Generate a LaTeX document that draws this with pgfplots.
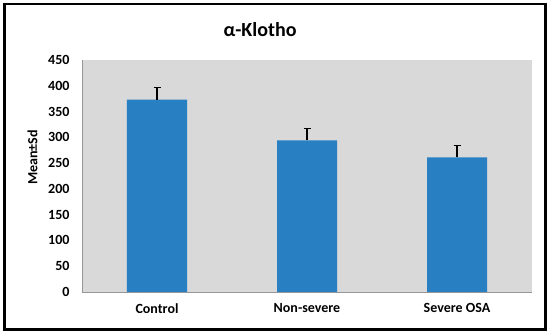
\documentclass[border=0pt]{standalone}
\usepackage{fontspec}
\setmainfont{Carlito}
\usepackage{pgfplots}
\pgfplotsset{compat=1.18}
\definecolor{barblue}{RGB}{40,128,194}
\definecolor{bg}{RGB}{217,217,217}
\definecolor{axgray}{RGB}{150,150,150}
\begin{document}
\begin{tikzpicture}[x=1pt,y=1pt]
\useasboundingbox (0,0) rectangle (550,335);
\draw[line width=2.2pt] (4.5,5.5) rectangle (545.5,331);
\node[font=\fontsize{20}{22}\selectfont\bfseries] at (260,305) {α-Klotho};
\begin{axis}[
  at={(82pt,43pt)}, anchor=south west,
  scale only axis, width=450pt, height=232pt,
  xmin=-0.5, xmax=2.5, ymin=0, ymax=450,
  ytick={0,50,...,450},
  yticklabel={\bfseries\pgfmathprintnumber[assume math mode=true]{\tick}},
  xtick={0,1,2}, xticklabels={Control,Non-severe,Severe OSA},
  axis background/.style={fill=bg},
  axis x line*=bottom, axis y line*=left,
  axis line style={-, draw=axgray, line width=0.8pt},
  major tick length=0pt, tick style={draw=none},
  ticklabel style={font=\fontsize{14}{16}\selectfont\bfseries},
  xticklabel style={yshift=-8pt},
  yticklabel style={xshift=-9pt},
  ylabel={Mean±Sd},
  every axis y label/.style={at={(axis description cs:-0.11,0.58)}, rotate=90, anchor=center, font=\fontsize{14}{16}\selectfont\bfseries},
  ybar, bar width=60pt,
]
\addplot[fill=barblue, draw=none,
  error bars/.cd, y dir=plus, y explicit,
  error bar style={black, line width=1.1pt},
  error mark options={rotate=90, mark size=3.5pt, black, line width=1.1pt}]
  coordinates {(0,373) +- (0,24) (1,294) +- (0,23) (2,261) +- (0,24)};
\end{axis}
\end{tikzpicture}
\end{document}
